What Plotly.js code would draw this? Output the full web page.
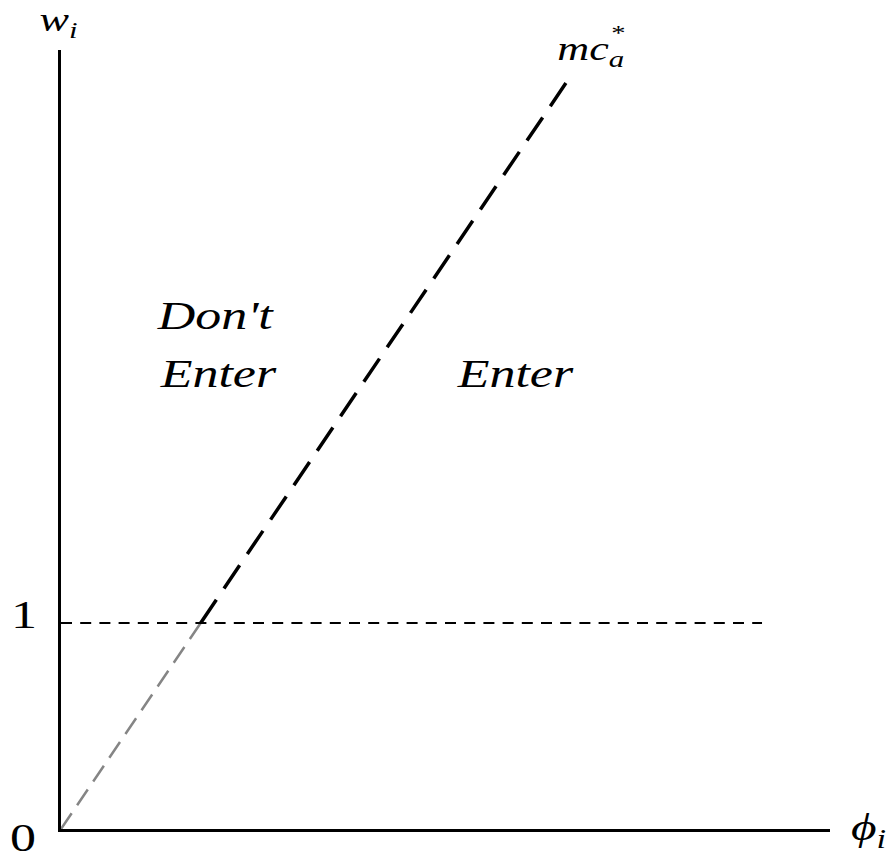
<!DOCTYPE html>
<html>
<head>
<meta charset="utf-8">
<script src="https://cdn.plot.ly/plotly-3.0.1.min.js"></script>
<style>
html,body{margin:0;padding:0;background:#fff;}
#chart{width:887px;height:861px;}
#chart text.annotation-text{transform-box:fill-box;transform-origin:center;transform:scaleX(1.3);}
</style>
</head>
<body>
<div id="chart"></div>
<script>
// Entry threshold line mc*_a (grey part below w=1, black part above)
const greyPhi = [0, 0.678];
const greyW = [0, 1];
const blackPhi = [0.678, 2.451];
const blackW = [1, 3.621];
// Horizontal reference line w = 1
const hPhi = [0, 3.403];
const hW = [1, 1];
// Axis labels
const yTickLabels = ["0", "1"];

const SCALE = 206, L = 61, B = 829, PW = 769, PH = 779;
const PX = px => (px - L) / PW;
const PY = py => (B - py) / PH;

const serif = "Liberation Serif";

const traces = [
  {x: greyPhi, y: greyW, mode: 'lines', line: {color: '#858585', width: 2.5, dash: '19px,9.7px'}},
  {x: blackPhi, y: blackW, mode: 'lines', line: {color: '#000', width: 3.5, dash: '28px,13.6px'}},
  {x: hPhi, y: hW, mode: 'lines', line: {color: '#000', width: 2, dash: '11px,8.2px'}}
];

const ann = (text, px, py, size) => ({
  x: PX(px), y: PY(py), xref: 'paper', yref: 'paper', text: text, showarrow: false,
  xanchor: 'center', yanchor: 'middle', borderpad: 0,
  font: {family: serif, size: size, color: '#000'}
});

const layout = {
  width: 887, height: 861,
  margin: {l: L, r: 57, t: 50, b: 32, pad: 0},
  paper_bgcolor: '#fff', plot_bgcolor: '#fff',
  showlegend: false, hovermode: false,
  xaxis: {range: [0, PW / SCALE], showgrid: false, zeroline: false, showticklabels: false,
          ticks: '', showline: true, linewidth: 3, linecolor: '#000'},
  yaxis: {range: [0, PH / SCALE], showgrid: false, zeroline: false, showticklabels: false,
          ticks: '', showline: true, linewidth: 3, linecolor: '#000'},
  annotations: [
    ann(yTickLabels[0], 23, 838, 40),
    ann(yTickLabels[1], 24, 614, 40),
    ann('<i>w</i><sub><i>i</i></sub>', 58, 22, 34),
    ann('<i>ϕ</i><sub><i>i</i></sub>', 868, 830, 38),
    ann('<i>mc</i><sub><i>a</i></sub>', 591, 51, 34),
    ann('*', 618, 33, 22),
    ann("<i>Don't</i>", 215, 315, 40),
    ann('<i>Enter</i>', 218, 373, 40),
    ann('<i>Enter</i>', 515, 373, 40)
  ]
};

Plotly.newPlot('chart', traces, layout, {staticPlot: true, displayModeBar: false});
</script>
</body>
</html>
